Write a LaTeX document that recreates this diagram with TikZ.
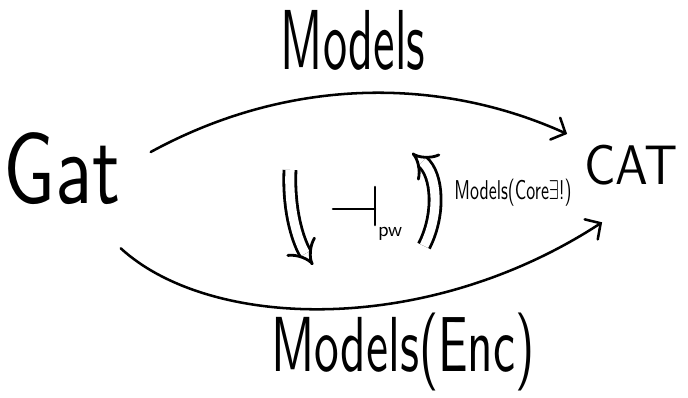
\documentclass[tikz,border=0pt]{standalone}
\usepackage{graphicx}
\usetikzlibrary{arrows.meta}

\newcommand{\handlabel}[3]{\resizebox*{#1}{#2}{\sffamily #3}}

\begin{document}
\begin{tikzpicture}[
  x=0.025cm, y=-0.025cm,
  obj/.style={inner sep=0pt},
  lbl/.style={inner sep=0pt},
  arr/.style={line width=1.8pt, line cap=round,
    -{Straight Barb[length=8pt,width=17pt,line cap=round]}},
  twocell/.style={double, double distance=6.5pt, line width=2pt,
    line cap=butt, -{Implies}},
  adj/.style={line width=1.8pt, line cap=round}
]
\useasboundingbox (0,0) rectangle (688,398);

% Objects
\node[obj] (Gat) at (62,169) {\handlabel{2.92cm}{1.8cm}{Gat}};
\node[obj] (CAT) at (631,165) {\handlabel{2.33cm}{1cm}{CAT}};

% Functors
\draw[arr] ([shift={(30,-17)}]Gat.east) .. controls (290,76) and (441,77) .. ([shift={(-17,-31)}]CAT.west);
\draw[arr] ([shift={(0,43)}]Gat.south east) .. controls (210,330) and (426,337) .. ([shift={(18,37)}]CAT.south west);

\node[lbl] (models) at (353,40) {\handlabel{3.6cm}{1.5cm}{Models}};
\node[lbl] (modelsEnc) at (403,352) {\handlabel{6.58cm}{1.95cm}{Models(Enc)}};

% Natural transformations
\coordinate (unitTop) at (290,170);
\coordinate (unitTip) at (313,265);
\draw[twocell] (unitTop) .. controls (288,215) and (300,245) .. (unitTip);

\coordinate (counitBot) at (424,246);
\coordinate (counitTip) at (412,153);
\draw[twocell] (counitBot) .. controls (440,215) and (438,175) .. (counitTip);

\node[lbl] (modelsCore) at (513,193) {\handlabel{2.93cm}{0.68cm}{Models(Core$\exists$!)}};

% Adjunction
\coordinate (adjL) at (333,209);
\coordinate (adjR) at (375,209);
\draw[adj] (adjL) -- (adjR);
\draw[adj] ([shift={(0,-22)}]adjR) -- ([shift={(0,16)}]adjR);
\node[lbl] (pw) at (390,234) {\handlabel{0.6cm}{0.33cm}{pw}};

\end{tikzpicture}
\end{document}
